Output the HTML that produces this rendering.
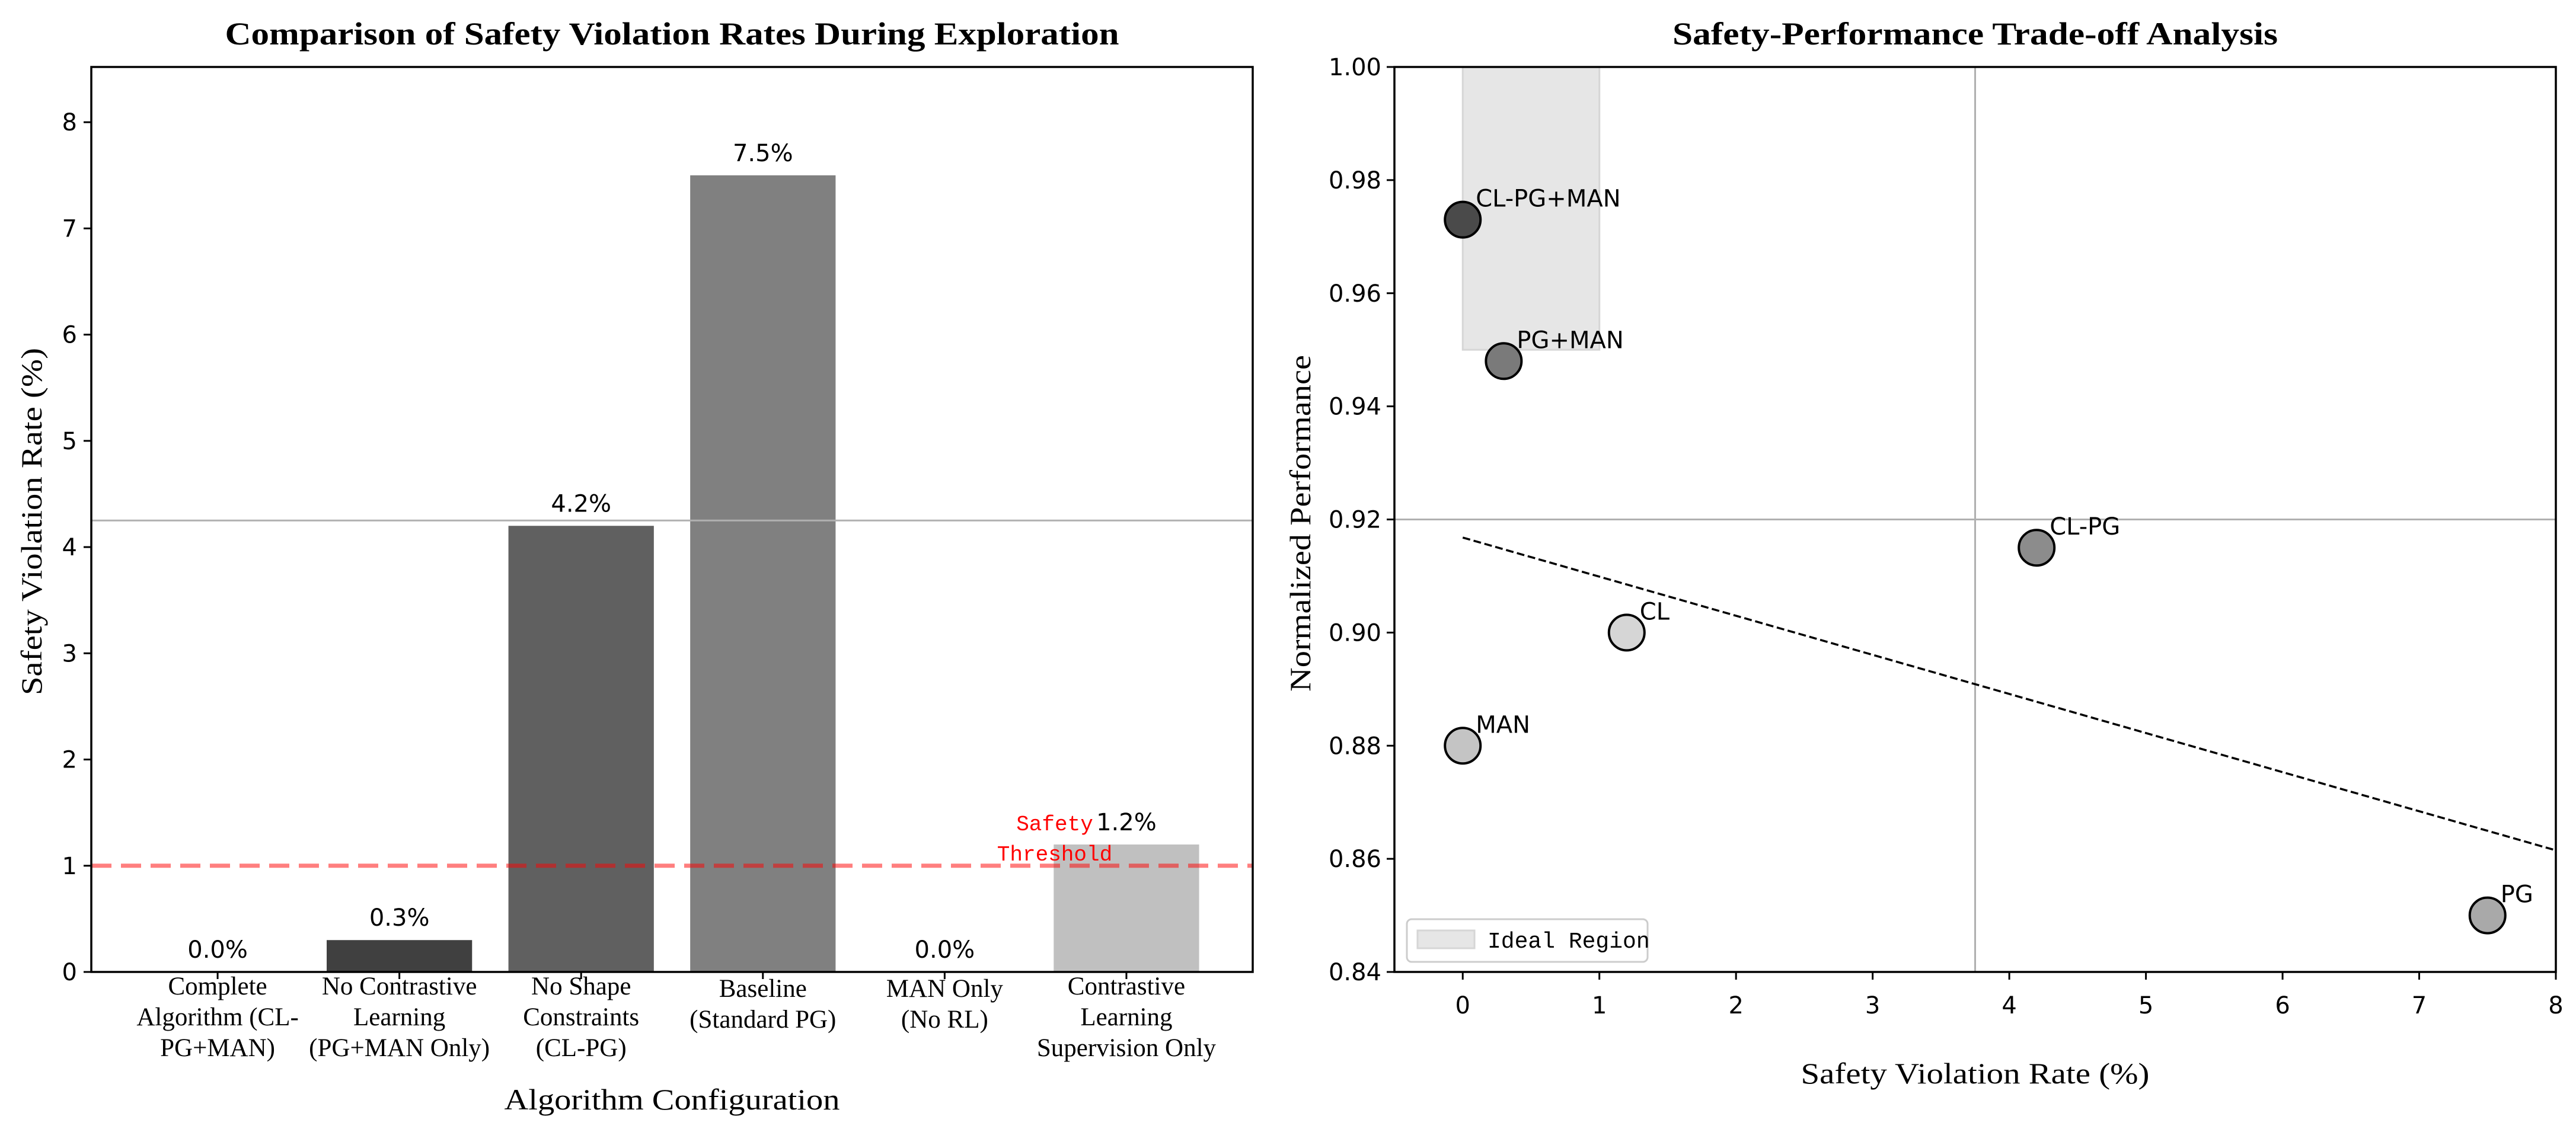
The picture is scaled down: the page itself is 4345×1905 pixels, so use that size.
<!DOCTYPE html>
<html><head><meta charset="utf-8"><style>
html,body{margin:0;padding:0;background:#fff;}
svg{display:block;}
.tk{font-family:"DejaVu Sans","Liberation Sans",sans-serif;font-size:40px;fill:#000;}
.sr{font-family:"Liberation Serif",serif;fill:#000;}
</style></head><body>
<svg id="fig" width="4345" height="1905" viewBox="0 0 4345 1905" xmlns="http://www.w3.org/2000/svg">
<g id="left"></g>
<g id="right"></g>
</svg>
<script>
// ---- Bar chart data ----
const barCategories = [["Complete","Algorithm (CL-","PG+MAN)"],["No Contrastive","Learning","(PG+MAN Only)"],["No Shape","Constraints","(CL-PG)"],["Baseline","(Standard PG)"],["MAN Only","(No RL)"],["Contrastive","Learning","Supervision Only"]];
const barValues = [0.0, 0.3, 4.2, 7.5, 0.0, 1.2];
const barColors = ["#202020","#404040","#606060","#808080","#a0a0a0","#c0c0c0"];
const barYTicks = [0,1,2,3,4,5,6,7,8];
const safetyThreshold = 1.0;
const barRefLine = 4.25;

// ---- Scatter data ----
const ptNames = ["CL-PG+MAN","PG+MAN","CL-PG","CL","MAN","PG"];
const ptX = [0, 0.3, 4.2, 1.2, 0, 7.5];
const ptY = [0.973, 0.948, 0.915, 0.900, 0.880, 0.850];
const ptColors = ["#4a4a4a","#7a7a7a","#8c8c8c","#d6d6d6","#c4c4c4","#a9a9a9"];
const scXTicks = [0,1,2,3,4,5,6,7,8];
const scYTicks = [0.84,0.86,0.88,0.90,0.92,0.94,0.96,0.98,1.00];
const trendStart = [0, 0.9168];
const trendEnd = [8, 0.8615];
const idealRegion = [0, 1, 0.95, 1.0];
const refX = 3.75, refY = 0.92;

const NS = "http://www.w3.org/2000/svg";
function mk(parent, tag, attrs, text){
  const e = document.createElementNS(NS, tag);
  for (const k in attrs) e.setAttribute(k, attrs[k]);
  if (text !== undefined) e.textContent = text;
  parent.appendChild(e);
  return e;
}

// ===== LEFT PANEL =====
const L = document.getElementById('left');
const LX0 = 154, LX1 = 2113, LY0 = 113, LY1 = 1640;
const lxMin = -0.695, lxMax = 5.695, lyMin = 0, lyMax = 8.52;
const lx = v => LX0 + (v - lxMin) / (lxMax - lxMin) * (LX1 - LX0);
const ly = v => LY1 - (v - lyMin) / (lyMax - lyMin) * (LY1 - LY0);
const bw = 0.8;

barValues.forEach((v, i) => {
  const r = mk(L, 'rect', {x: lx(i - bw/2), y: ly(v), width: lx(i + bw/2) - lx(i - bw/2), height: ly(0) - ly(v), fill: barColors[i]});
  
  
  const t = mk(L, 'text', {x: lx(i), y: ly(v) - 24, 'text-anchor': 'middle', class: 'tk'}, v.toFixed(1) + '%');
  
  
});
// reference gray line
const lr = mk(L, 'line', {x1: LX0, x2: LX1, y1: ly(barRefLine), y2: ly(barRefLine), stroke: '#b0b0b0', 'stroke-width': 3});


// threshold
const th = mk(L, 'line', {x1: LX0, x2: LX1, y1: ly(safetyThreshold), y2: ly(safetyThreshold), stroke: '#ff0000', 'stroke-opacity': 0.5, 'stroke-width': 7, 'stroke-dasharray': '34 16'});


const thl = mk(L, 'text', {x: 1779, y: ly(safetyThreshold) - 60, 'text-anchor': 'middle', fill: '#ff0000', 'font-family': '"Liberation Mono",monospace', 'font-size': 36});


mk(thl, 'tspan', {x: 1779, dy: 0}, 'Safety');
mk(thl, 'tspan', {x: 1779, dy: 51}, 'Threshold');
// axes frame
const lf = mk(L, 'rect', {x: LX0, y: LY0, width: LX1 - LX0, height: LY1 - LY0, fill: 'none', stroke: '#000', 'stroke-width': 3.5});


barYTicks.forEach(v => {
  mk(L, 'line', {x1: LX0 - 13, x2: LX0, y1: ly(v), y2: ly(v), stroke: '#000', 'stroke-width': 3});
  const t = mk(L, 'text', {x: LX0 - 24, y: ly(v) + 14, 'text-anchor': 'end', class: 'tk'}, String(v));
  
  
});
barCategories.forEach((lines, i) => {
  mk(L, 'line', {x1: lx(i), x2: lx(i), y1: LY1, y2: LY1 + 12, stroke: '#000', 'stroke-width': 3});
  const off = lines.length === 2 ? 4 : 0;
  const t = mk(L, 'text', {x: lx(i), y: 1678 + off, 'text-anchor': 'middle', class: 'sr', 'font-size': 43});
  
  
  lines.forEach((s, j) => mk(t, 'tspan', {x: lx(i), dy: j === 0 ? 0 : 52}, s));
});
const lt = mk(L, 'text', {x: (LX0 + LX1)/2, y: 75, 'text-anchor': 'middle', class: 'sr', 'font-size': 54, 'font-weight': 'bold', textLength: 1508, lengthAdjust: 'spacingAndGlyphs'}, 'Comparison of Safety Violation Rates During Exploration');


const lxl = mk(L, 'text', {x: (LX0 + LX1)/2, y: 1872, 'text-anchor': 'middle', class: 'sr', 'font-size': 50, textLength: 566, lengthAdjust: 'spacingAndGlyphs'}, 'Algorithm Configuration');


const lyl = mk(L, 'text', {x: 0, y: 0, transform: 'translate(70,880) rotate(-90)', 'text-anchor': 'middle', class: 'sr', 'font-size': 50, textLength: 586, lengthAdjust: 'spacingAndGlyphs'}, 'Safety Violation Rate (%)');



// ===== RIGHT PANEL =====
const R = document.getElementById('right');
const RX0 = 2352, RX1 = 4311, RY0 = 113, RY1 = 1640;
const sxMin = -0.5, sxMax = 8, syMin = 0.84, syMax = 1.0;
const sx = v => RX0 + (v - sxMin) / (sxMax - sxMin) * (RX1 - RX0);
const sy = v => RY1 - (v - syMin) / (syMax - syMin) * (RY1 - RY0);

const ir = mk(R, 'rect', {x: sx(idealRegion[0]), y: sy(idealRegion[3]), width: sx(idealRegion[1]) - sx(idealRegion[0]), height: sy(idealRegion[2]) - sy(idealRegion[3]), fill: '#e6e6e6', stroke: '#d6d6d6', 'stroke-width': 3});


const rv = mk(R, 'line', {x1: sx(refX), x2: sx(refX), y1: RY0, y2: RY1, stroke: '#b0b0b0', 'stroke-width': 3});


const rh = mk(R, 'line', {x1: RX0, x2: RX1, y1: sy(refY), y2: sy(refY), stroke: '#b0b0b0', 'stroke-width': 3});


const tl = mk(R, 'line', {x1: sx(trendStart[0]), y1: sy(trendStart[1]), x2: sx(trendEnd[0]), y2: sy(trendEnd[1]), stroke: '#000', 'stroke-width': 3.5, 'stroke-dasharray': '13 6'});


ptNames.forEach((n, i) => {
  const c = mk(R, 'circle', {cx: sx(ptX[i]), cy: sy(ptY[i]), r: 30, fill: ptColors[i], stroke: '#000', 'stroke-width': 4});
  
  
  const t = mk(R, 'text', {x: sx(ptX[i]) + 22, y: sy(ptY[i]) - 22, class: 'tk'}, n);
  
  
});
const rf = mk(R, 'rect', {x: RX0, y: RY0, width: RX1 - RX0, height: RY1 - RY0, fill: 'none', stroke: '#000', 'stroke-width': 3.5});


scYTicks.forEach(v => {
  mk(R, 'line', {x1: RX0 - 13, x2: RX0, y1: sy(v), y2: sy(v), stroke: '#000', 'stroke-width': 3});
  const t = mk(R, 'text', {x: RX0 - 22, y: sy(v) + 14, 'text-anchor': 'end', class: 'tk'}, v.toFixed(2));
  
  
});
scXTicks.forEach(v => {
  mk(R, 'line', {x1: sx(v), x2: sx(v), y1: RY1, y2: RY1 + 13, stroke: '#000', 'stroke-width': 3});
  const t = mk(R, 'text', {x: sx(v), y: 1710, 'text-anchor': 'middle', class: 'tk'}, String(v));
  
  
});
// legend
const lg = mk(R, 'g', {});


mk(lg, 'rect', {x: 2373, y: 1551, width: 406, height: 72, rx: 8, fill: '#fff', 'fill-opacity': 0.8, stroke: '#cccccc', 'stroke-width': 3});
mk(lg, 'rect', {x: 2391, y: 1570, width: 96, height: 30, fill: '#e6e6e6', stroke: '#d6d6d6', 'stroke-width': 3});
const lgt = mk(lg, 'text', {x: 2509, y: 1599, fill: '#000', 'font-family': '"Liberation Mono",monospace', 'font-size': 38}, 'Ideal Region');


const rt = mk(R, 'text', {x: (RX0 + RX1)/2, y: 75, 'text-anchor': 'middle', class: 'sr', 'font-size': 54, 'font-weight': 'bold', textLength: 1021, lengthAdjust: 'spacingAndGlyphs'}, 'Safety-Performance Trade-off Analysis');


const rxl = mk(R, 'text', {x: (RX0 + RX1)/2, y: 1828, 'text-anchor': 'middle', class: 'sr', 'font-size': 50, textLength: 588, lengthAdjust: 'spacingAndGlyphs'}, 'Safety Violation Rate (%)');


const ryl = mk(R, 'text', {x: 0, y: 0, transform: 'translate(2210,883) rotate(-90)', 'text-anchor': 'middle', class: 'sr', 'font-size': 50, textLength: 568, lengthAdjust: 'spacingAndGlyphs'}, 'Normalized Performance');


</script>
</body></html>
